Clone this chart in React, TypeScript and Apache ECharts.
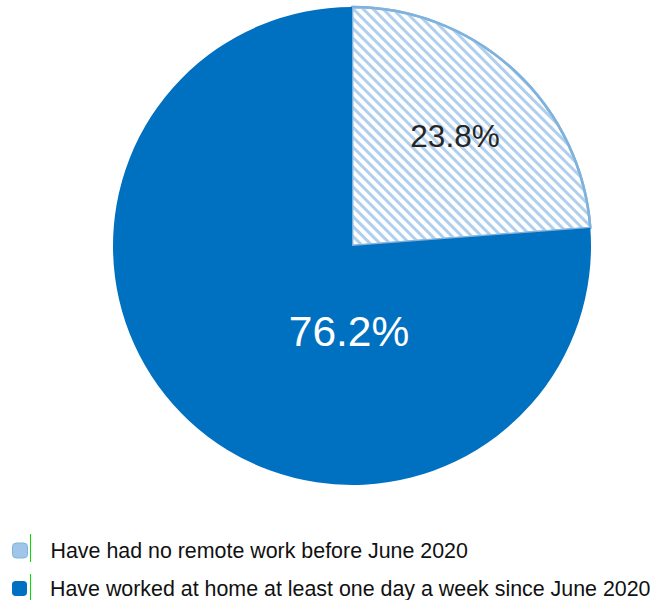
import React, { useEffect, useRef } from "react";
import * as echarts from "echarts";

const categories = [
  "Have had no remote work before June 2020",
  "Have worked at home at least one day a week since June 2020",
];
const values = [23.8, 76.2];
const labelPositions = [
  [455, 136],
  [349, 331],
];

const FONT = "Liberation Sans, Arial, sans-serif";

export default function App() {
  const ref = useRef<HTMLDivElement>(null);
  useEffect(() => {
    if (!ref.current) return;
    const chart = echarts.init(ref.current, null, { renderer: "svg" });
    const legendBase = {
      orient: "horizontal",
      left: 12,
      padding: 0,
      itemWidth: 15,
      itemHeight: 15,
      icon: "roundRect",
      textStyle: {
        fontFamily: FONT,
        fontSize: 21.4,
        color: "#111",
        padding: [0, 0, 0, 18],
      },
    };
    chart.setOption({
      animation: false,
      legend: [
        {
          ...legendBase,
          top: 540,
          data: [
            {
              name: categories[0],
              itemStyle: { color: "#9fc5e8", borderColor: "#80b3df", borderWidth: 1, decal: "none" },
            },
          ],
        },
        {
          ...legendBase,
          top: 578,
          data: [{ name: categories[1], itemStyle: { color: "#0070c0" } }],
        },
      ],
      graphic: [
        { type: "line", z: 100, shape: { x1: 30.5, y1: 534, x2: 30.5, y2: 562 }, style: { stroke: "#00e000", lineWidth: 1 } },
        { type: "line", z: 100, shape: { x1: 30.5, y1: 574, x2: 30.5, y2: 600 }, style: { stroke: "#00e000", lineWidth: 1 } },
      ],
      series: [
        {
          type: "pie",
          center: [352, 246],
          radius: 239,
          startAngle: 90,
          clockwise: true,
          avoidLabelOverlap: false,
          label: {
            show: true,
            position: "inside",
            fontFamily: FONT,
            formatter: (p: any) => p.value.toFixed(1) + "%",
          },
          labelLine: { show: false },
          labelLayout: (params: any) => {
            const pos = labelPositions[params.dataIndex];
            return { x: pos[0], y: pos[1], align: "center", verticalAlign: "middle" };
          },
          data: [
            {
              name: categories[0],
              value: values[0],
              itemStyle: {
                color: "#ffffff",
                borderColor: "#7fb2dd",
                borderWidth: 2.5,
                decal: {
                  symbol: "rect",
                  dashArrayX: [1, 0],
                  dashArrayY: [3, 3.5],
                  rotation: Math.PI / 4,
                  color: "#b0cfec",
                },
              },
              label: { color: "#262626", fontSize: 31.5 },
            },
            {
              name: categories[1],
              value: values[1],
              itemStyle: { color: "#0070c0", borderWidth: 0 },
              label: { color: "#ffffff", fontSize: 42.5 },
            },
          ],
        },
      ],
    });
    return () => chart.dispose();
  }, []);
  return <div ref={ref} style={{ width: 657, height: 600, position: "absolute", left: 0, top: 0 }} />;
}
